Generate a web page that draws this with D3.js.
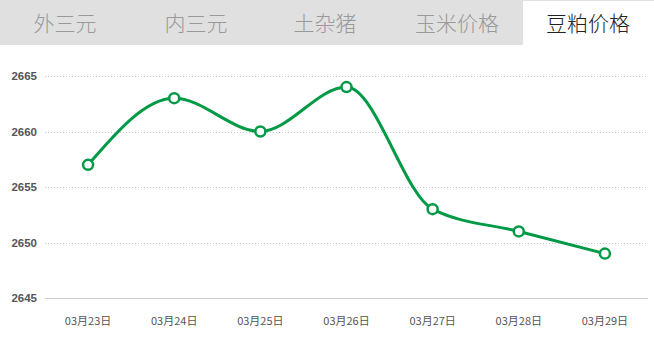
<!DOCTYPE html>
<html>
<head>
<meta charset="utf-8">
<script src="https://cdn.jsdelivr.net/npm/d3@7"></script>
<style>
  html, body { margin: 0; padding: 0; background: #fff; }
  svg { display: block; }
</style>
</head>
<body>
<svg id="chart" width="654" height="343"></svg>
<script>
// Tabs across the top
const tabs = ["外三元", "内三元", "土杂猪", "玉米价格", "豆粕价格"];
const activeTab = "豆粕价格";

// Soybean meal price series
const dates = ["03月23日", "03月24日", "03月25日", "03月26日", "03月27日", "03月28日", "03月29日"];
const prices = [2657, 2663, 2660, 2664, 2653, 2651, 2649];
const yTicks = [2645, 2650, 2655, 2660, 2665];

(function draw() {
  const W = 654;
  const svg = d3.select("#chart");

  // Tab bar
  const tabBarH = 45;
  svg.append("rect").attr("x", 0).attr("y", 0).attr("width", W).attr("height", tabBarH).attr("fill", "#e0e0e0");
  const activeX = 523;
  svg.append("rect").attr("x", activeX).attr("y", 1).attr("width", W - activeX).attr("height", tabBarH)
    .attr("fill", "#fff");
  const tabCenters = [65, 196, 325, 457, 588];
  svg.append("g").selectAll("text").data(tabs).join("text")
    .attr("x", (d, i) => tabCenters[i])
    .attr("y", 31)
    .attr("text-anchor", "middle")
    .attr("font-family", "'Noto Sans CJK SC', sans-serif")
    .attr("font-weight", 300)
    .attr("font-size", 21)
    .attr("fill", d => d === activeTab ? "#222" : "#999")
    .text(d => d);

  // Plot area
  const pLeft = 45, pRight = 648, pTop = 76, pBottom = 298;
  const x = d3.scaleBand().domain(dates).range([pLeft, pRight]);
  const y = d3.scaleLinear().domain([2645, 2665]).range([pBottom, pTop]);

  // Grid lines
  svg.append("g").selectAll("line").data(yTicks).join("line")
    .attr("x1", pLeft).attr("x2", pRight)
    .attr("y1", d => Math.round(y(d)) + 0.5).attr("y2", d => Math.round(y(d)) + 0.5)
    .attr("stroke", d => d === 2645 ? "#d0d0d0" : "#c8c8c8")
    .attr("stroke-width", 1)
    .attr("stroke-dasharray", d => d === 2645 ? null : "1,2");

  // Y labels
  svg.append("g").selectAll("text").data(yTicks).join("text")
    .attr("x", 37)
    .attr("y", d => y(d) + 4)
    .attr("text-anchor", "end")
    .attr("font-family", "Arial, 'Liberation Sans', sans-serif")
    .attr("font-size", 11.5)
    .attr("font-weight", "bold")
    .attr("fill", "#555")
    .text(d => d);

  // X labels
  svg.append("g").selectAll("text").data(dates).join("text")
    .attr("x", d => x(d) + x.bandwidth() / 2)
    .attr("y", 325)
    .attr("text-anchor", "middle")
    .attr("font-family", "'Noto Sans CJK SC', sans-serif")
    .attr("font-size", 11)
    .attr("fill", "#555")
    .text(d => d);

  // Line
  const pts = dates.map((d, i) => [x(d) + x.bandwidth() / 2, y(prices[i])]);
  const green = "#009a47";
  svg.append("path")
    .attr("d", d3.line().curve(d3.curveMonotoneX)(pts))
    .attr("fill", "none")
    .attr("stroke", green)
    .attr("stroke-width", 3);

  // Markers
  svg.append("g").selectAll("circle").data(pts).join("circle")
    .attr("cx", d => d[0]).attr("cy", d => d[1])
    .attr("r", 5)
    .attr("fill", "#fff")
    .attr("stroke", green)
    .attr("stroke-width", 2.5);
})();
</script>
</body>
</html>
